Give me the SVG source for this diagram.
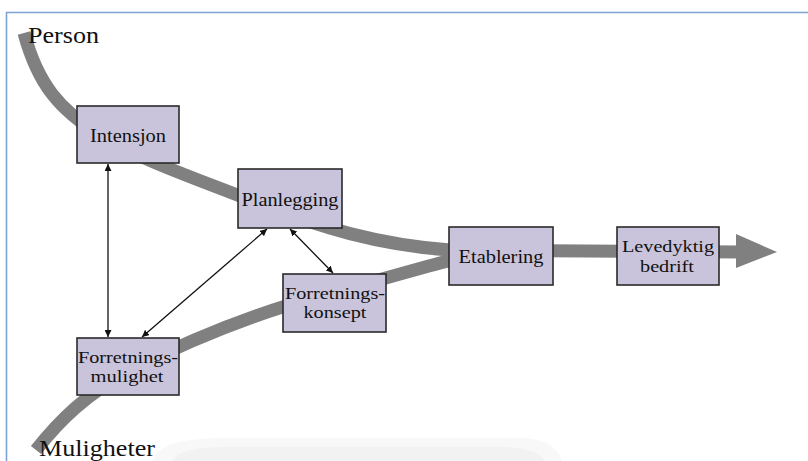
<svg xmlns="http://www.w3.org/2000/svg" width="808" height="461" viewBox="0 0 808 461">
<defs>
<style>
.band{fill:none;stroke:#808080;stroke-width:13}
.box{fill:#c9c4db;stroke:#2a2a2a;stroke-width:1.6}
.lbl{font-family:"Liberation Serif","Times New Roman",serif;font-size:18px;fill:#111;text-anchor:middle}
.sm{font-size:16.5px}
.big{font-family:"Liberation Serif","Times New Roman",serif;font-size:23px;fill:#111}
.thin{stroke:#111;stroke-width:1.3;fill:none;marker-start:url(#ah);marker-end:url(#ah)}
</style>
<marker id="ah" viewBox="0 0 10 10" refX="10" refY="5" markerWidth="7" markerHeight="7" markerUnits="userSpaceOnUse" orient="auto-start-reverse">
<path d="M0,0 L10,5 L0,10 z" fill="#111"/>
</marker>
</defs>
<rect width="808" height="461" fill="#ffffff"/>
<path d="M6.5,461 V12.5 H808" fill="none" stroke="#7fa3d3" stroke-width="1.6"/>
<path d="M152,461 C160,444 180,438 230,438 L520,438 C545,438 558,448 562,461 Z" fill="#f8f8f8"/>
<path d="M172,461 C180,450 195,447 230,447 L500,447 C525,447 540,452 545,461 Z" fill="#f2f2f2"/>
<g id="connectors">
<path class="band" d="M24,33 C38,85 60,110 100,135 C140,160 200,180 250,200 C320,228 380,245 450,250 L740,252"/>
<path class="band" d="M36,450 C60,420 85,395 130,370 C200,335 260,312 320,296 C380,280 420,268 452,260"/>
<polygon points="736,234 777,252 736,268" fill="#808080"/>
<line class="thin" x1="108" y1="164" x2="108" y2="337"/>
<line class="thin" x1="267" y1="229" x2="142" y2="337"/>
<line class="thin" x1="290" y1="229" x2="333" y2="273"/>
</g>
<g id="intensjon"><rect class="box" x="77" y="106" width="102" height="57"/><text class="lbl" x="128" y="142" textLength="76" lengthAdjust="spacingAndGlyphs">Intensjon</text></g>
<g id="planlegging"><rect class="box" x="238" y="169" width="104" height="59"/><text class="lbl" x="290" y="206" textLength="97" lengthAdjust="spacingAndGlyphs">Planlegging</text></g>
<g id="etablering"><rect class="box" x="449" y="227" width="104" height="58"/><text class="lbl" x="501" y="263" textLength="85" lengthAdjust="spacingAndGlyphs">Etablering</text></g>
<g id="forretningskonsept"><rect class="box" x="283" y="274" width="103" height="58"/><text class="lbl sm" x="335" y="299" textLength="100" lengthAdjust="spacingAndGlyphs">Forretnings-</text><text class="lbl sm" x="335" y="318" textLength="63" lengthAdjust="spacingAndGlyphs">konsept</text></g>
<g id="forretningsmulighet"><rect class="box" x="77" y="338" width="102" height="57"/><text class="lbl sm" x="128" y="363" textLength="100" lengthAdjust="spacingAndGlyphs">Forretnings-</text><text class="lbl sm" x="127" y="382" textLength="73" lengthAdjust="spacingAndGlyphs">mulighet</text></g>
<g id="levedyktig"><rect class="box" x="617" y="227" width="102" height="58"/><text class="lbl sm" x="668" y="252" textLength="92" lengthAdjust="spacingAndGlyphs">Levedyktig</text><text class="lbl sm" x="667" y="272" textLength="54" lengthAdjust="spacingAndGlyphs">bedrift</text></g>
<g id="person"><text class="big" x="28" y="43" textLength="71" lengthAdjust="spacingAndGlyphs">Person</text></g>
<g id="muligheter"><text class="big" x="39" y="456" textLength="116" lengthAdjust="spacingAndGlyphs">Muligheter</text></g>
</svg>
